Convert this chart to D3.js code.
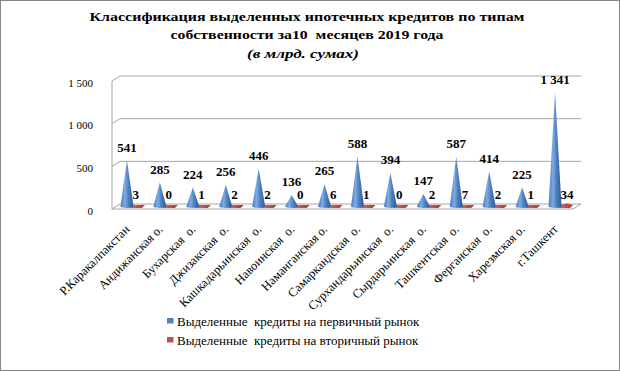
<!DOCTYPE html>
<html>
  <head>
    <meta charset="utf-8">
    <script src="https://d3js.org/d3.v7.min.js"></script>
    <style>
      body { margin: 0; background: #fff; }
    </style>
  </head>
  <body>
    <script>

      var categories = ["Р.Каракалпакстан", "Андижанская о.", "Бухарская  о.", "Джизакская  о.",
        "Кашкадарьинская  о.", "Навоинская  о.", "Наманганская о.", "Самаркандская  о.",
        "Сурхандарьинская  о.", "Сырдарьинская  о.", "Ташкентская  о.", "Ферганская  о.",
        "Харезмская о.", "г.Ташкент"];
      var primary = [541, 285, 224, 256, 446, 136, 265, 588, 394, 147, 587, 414, 225, 1341];
      var secondary = [3, 0, 1, 2, 2, 0, 6, 1, 0, 2, 7, 2, 1, 34];
      var yTicks = [0, 500, 1000, 1500];
      var seriesNames = ["Выделенные  кредиты на первичный рынок", "Выделенные  кредиты на вторичный рынок"];
      var titleLines = ["Классификация выделенных ипотечных кредитов по типам",
        "собственности за10  месяцев 2019 года"];
      var subtitle = "(в млрд. сумах)";

      var width = 620, height = 371;
      var serif = "'Liberation Serif'";
      // 3d box: front-left corner of floor and depth offset
      var frontL = 112, frontR = 573, floorY = 209;
      var depthX = 8, depthY = -5;

      var fmt = d3.formatLocale({decimal: ",", thousands: " ", grouping: [3], currency: ["", ""]}).format(",d");

      var svg = d3.select("body").append("svg")
          .attr("width", width)
          .attr("height", height)
          .style("font-family", serif);

      svg.append("rect")
          .attr("x", 0.5).attr("y", 0.5)
          .attr("width", width - 1).attr("height", height - 1)
          .attr("fill", "#fff")
          .attr("stroke", "#868686");

      var x = d3.scaleBand().domain(categories).range([frontL, frontR]);
      var yFront = d3.scaleLinear().domain([0, 1500]).range([floorY, floorY - 128]);
      var yBack = d3.scaleLinear().domain([0, 1500]).range([floorY + depthY, floorY + depthY - 128]);
      var yMid = d3.scaleLinear().domain([0, 1500]).range([floorY + depthY / 2, floorY + depthY / 2 - 128]);

      // title (the original is set wide, so stretch it to the same length)
      var title = svg.append("g");
      var titleLen = [435, 273];
      title.selectAll("text.tl")
          .data(titleLines)
        .enter().append("text")
          .attr("x", 307)
          .attr("y", function(d, i) { return 21 + i * 17.5; })
          .attr("text-anchor", "middle")
          .attr("textLength", function(d, i) { return titleLen[i]; })
          .attr("lengthAdjust", "spacingAndGlyphs")
          .style("font-family", serif)
          .style("font-size", "13.5px")
          .style("font-weight", "bold")
          .style("white-space", "pre")
          .text(function(d) { return d; });
      title.append("text")
          .attr("x", 303)
          .attr("y", 58)
          .attr("text-anchor", "middle")
          .attr("textLength", 112)
          .attr("lengthAdjust", "spacingAndGlyphs")
          .style("font-family", serif)
          .style("font-size", "13.5px")
          .style("font-weight", "bold")
          .style("font-style", "italic")
          .text(subtitle);

      // walls and gridlines
      var walls = svg.append("g")
          .attr("fill", "none")
          .attr("stroke", "#a6a6a6");
      walls.selectAll("path")
          .data(yTicks)
        .enter().append("path")
          .attr("d", function(t) {
            return "M" + frontL + "," + yFront(t) +
              "L" + (frontL + depthX) + "," + yBack(t) +
              "L" + (frontR + depthX) + "," + yBack(t);
          });
      walls.append("path")
          .attr("d", "M" + frontL + "," + yFront(1500) + "L" + frontL + "," + floorY +
            "L" + frontR + "," + floorY + "L" + (frontR + depthX) + "," + (floorY + depthY));

      // y axis
      var yAxis = d3.axisLeft(yFront).tickValues(yTicks).tickSize(0).tickPadding(0).tickFormat(fmt);
      var yg = svg.append("g")
          .attr("transform", "translate(93,1.5)")
          .call(yAxis);
      yg.select(".domain").remove();
      yg.selectAll("text")
          .style("font-family", serif)
          .style("font-size", "11px")
          .attr("fill", "#000");

      // gradients
      var defs = svg.append("defs");
      var gb = defs.append("linearGradient").attr("id", "gBlue");
      gb.append("stop").attr("offset", "0%").attr("stop-color", "#4a7dc0");
      gb.append("stop").attr("offset", "35%").attr("stop-color", "#7eaae2");
      gb.append("stop").attr("offset", "60%").attr("stop-color", "#4f81bd");
      gb.append("stop").attr("offset", "100%").attr("stop-color", "#2d5b98");
      var gr = defs.append("linearGradient").attr("id", "gRed");
      gr.append("stop").attr("offset", "0%").attr("stop-color", "#d9706d");
      gr.append("stop").attr("offset", "100%").attr("stop-color", "#a33a37");

      var bw = x.bandwidth();
      function cxBlue(d, i) { return x(categories[i]) + bw / 2 - 1.5; }
      function cxRed(d, i) { return x(categories[i]) + bw / 2 + 8.5; }
      var coneR = 6.5;
      var baseY = floorY + depthY / 2;

      // secondary series (flat cones on the floor)
      svg.append("g").selectAll("path")
          .data(secondary)
        .enter().append("path")
          .attr("fill", "url(#gRed)")
          .attr("d", function(d, i) {
            var c = cxRed(d, i), top = yMid(d);
            return "M" + (c - coneR - 1.5) + "," + (baseY + 1.5) +
              "L" + (c + coneR - 1.5) + "," + (baseY + 1.5) +
              "L" + (c + coneR + 1.5) + "," + (baseY - 1.5) +
              "L" + (c + 1.5) + "," + Math.min(top, baseY - 1.5) +
              "L" + (c - coneR + 1.5) + "," + (baseY - 1.5) + "Z";
          });

      // primary series (cones)
      svg.append("g").selectAll("path")
          .data(primary)
        .enter().append("path")
          .attr("fill", "url(#gBlue)")
          .attr("d", function(d, i) {
            var c = cxBlue(d, i);
            return "M" + (c - coneR) + "," + baseY +
              "L" + c + "," + yMid(d) +
              "L" + (c + coneR) + "," + baseY +
              "A" + coneR + ",1.5 0 0,1 " + (c - coneR) + "," + baseY + "Z";
          });

      // value labels
      svg.append("g").selectAll("text")
          .data(primary)
        .enter().append("text")
          .attr("x", cxBlue)
          .attr("y", function(d) { return yMid(d) - 8.5; })
          .attr("text-anchor", "middle")
          .style("font-family", serif)
          .style("font-size", "13px")
          .style("font-weight", "bold")
          .text(fmt);
      svg.append("g").selectAll("text")
          .data(secondary)
        .enter().append("text")
          .attr("x", function(d, i) { return cxBlue(d, i) + 5.5; })
          .attr("y", 198.5)
          .style("font-family", serif)
          .style("font-size", "13px")
          .style("font-weight", "bold")
          .text(fmt);

      // category labels
      svg.append("g").selectAll("text")
          .data(categories)
        .enter().append("text")
          .attr("text-anchor", "end")
          .attr("transform", function(d) {
            return "translate(" + (x(d) + bw / 2 + 2) + ",230) rotate(-45)";
          })
          .style("font-family", serif)
          .style("font-size", "12.5px")
          .style("white-space", "pre")
          .text(function(d) { return d; });

      // legend
      var colors = ["#4f81bd", "#c0504d"];
      var legend = svg.append("g").selectAll("g")
          .data(seriesNames)
        .enter().append("g")
          .attr("transform", function(d, i) { return "translate(167," + (318 + i * 19) + ")"; });
      legend.append("rect")
          .attr("width", 6.5).attr("height", 5.5)
          .attr("fill", function(d, i) { return colors[i]; });
      legend.append("text")
          .attr("x", 10)
          .attr("y", 7.5)
          .style("font-family", serif)
          .style("font-size", "13px")
          .style("white-space", "pre")
          .text(function(d) { return d; });

    </script>
  </body>
</html>
